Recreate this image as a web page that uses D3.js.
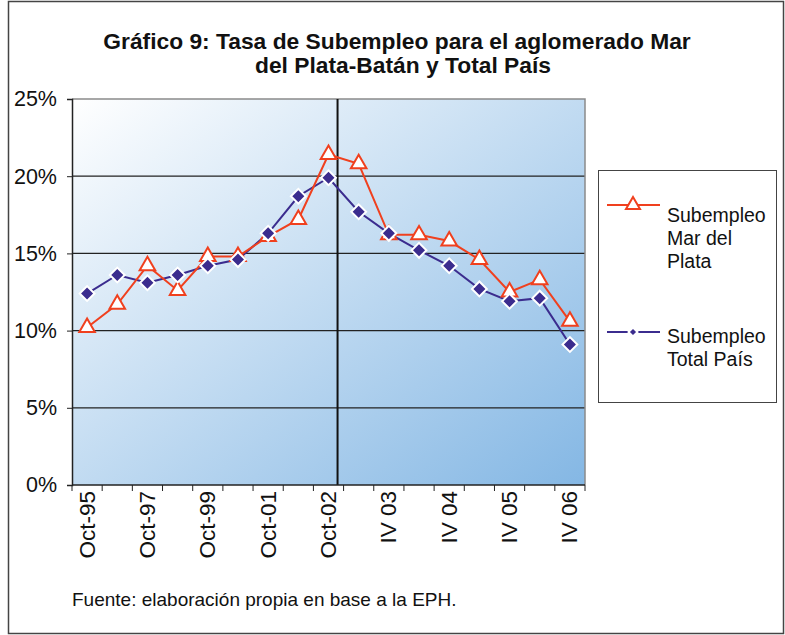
<!DOCTYPE html>
<html>
<head>
<meta charset="utf-8">
<script src="https://cdn.jsdelivr.net/npm/d3@7"></script>
<style>
    body { margin: 0; background: #fff; }
    svg { font-family: "Liberation Sans", Arial, sans-serif; }
</style>
</head>
<body>
<div id="wrapper"></div>
<script>
// categories (only every second one is labelled in the original)
const categories = ["Oct-95", "Oct-96", "Oct-97", "Oct-98", "Oct-99", "Oct-00", "Oct-01", "May-02",
    "Oct-02", "II 03", "IV 03", "II 04", "IV 04", "II 05", "IV 05", "II 06", "IV 06"];

const marDelPlata = [10.2, 11.7, 14.2, 12.6, 14.8, 14.8, 16.1, 17.2, 21.4, 20.8, 16.2, 16.2, 15.8, 14.6, 12.5, 13.3, 10.6];
const totalPais = [12.4, 13.6, 13.1, 13.6, 14.2, 14.6, 16.3, 18.7, 19.9, 17.7, 16.3, 15.2, 14.2, 12.7, 11.9, 12.1, 9.1];

const yTicks = [0, 5, 10, 15, 20, 25];

let wSvg = 785;
let hSvg = 635;

let plot = { left: 72, right: 585, top: 99, bottom: 485 };

let svg = d3.select("#wrapper")
    .append("svg")
    .attr("width", wSvg)
    .attr("height", hSvg);

// outer frame
svg.append("rect")
    .attr("x", 8.5).attr("y", 1.5)
    .attr("width", 775).attr("height", 632)
    .attr("fill", "#fff")
    .attr("stroke", "#444")
    .attr("stroke-width", 1.5);

// title
let title = svg.append("text")
    .attr("text-anchor", "middle")
    .attr("font-weight", "bold")
    .attr("font-size", 22.8)
    .attr("fill", "#111");
title.append("tspan").attr("x", 397).attr("y", 49).text("Gráfico 9: Tasa de Subempleo para el aglomerado Mar");
title.append("tspan").attr("x", 403).attr("y", 73).text("del Plata-Batán y Total País");

// background gradient of the plot area
let defs = svg.append("defs");
let grad = defs.append("linearGradient")
    .attr("id", "bg")
    .attr("x1", "0%").attr("y1", "0%")
    .attr("x2", "100%").attr("y2", "100%");
grad.append("stop").attr("offset", "0%").attr("stop-color", "#ffffff");
grad.append("stop").attr("offset", "100%").attr("stop-color", "#84b7e4");

svg.append("rect")
    .attr("x", plot.left).attr("y", plot.top)
    .attr("width", plot.right - plot.left)
    .attr("height", plot.bottom - plot.top)
    .attr("fill", "url(#bg)");

let xScale = d3.scaleBand()
    .domain(categories)
    .range([plot.left, plot.right])
    .padding(0);

let yScale = d3.scaleLinear()
    .domain([0, 25])
    .range([plot.bottom, plot.top]);

let cx = d => xScale(d) + xScale.bandwidth() / 2;

// gridlines
svg.append("g")
    .selectAll("line")
    .data(yTicks.filter(d => d > 0 && d < 25))
    .enter()
    .append("line")
    .attr("x1", plot.left).attr("x2", plot.right)
    .attr("y1", d => yScale(d)).attr("y2", d => yScale(d))
    .attr("stroke", "#222")
    .attr("stroke-width", 1.2);

// top and right border of plot area
svg.append("path")
    .attr("d", `M${plot.left},${plot.top}H${plot.right}V${plot.bottom}`)
    .attr("fill", "none")
    .attr("stroke", "#8a8a8a")
    .attr("stroke-width", 1.5);

// divider between the old EPH and the continuous EPH
let divX = cx("Oct-02") + xScale.bandwidth() * 0.3;
svg.append("line")
    .attr("x1", divX).attr("x2", divX)
    .attr("y1", plot.top).attr("y2", plot.bottom)
    .attr("stroke", "#111")
    .attr("stroke-width", 2);

// y axis
let yAxis = svg.append("g")
    .attr("transform", `translate(${plot.left},0)`)
    .call(d3.axisLeft(yScale)
        .tickValues(yTicks)
        .tickFormat(d => d + "%")
        .tickSize(5)
        .tickPadding(10));
yAxis.select(".domain").attr("stroke", "#222").attr("stroke-width", 1.5);
yAxis.selectAll(".tick line").attr("stroke", "#222");
yAxis.selectAll("text")
    .attr("font-size", 21.5)
    .attr("fill", "#111")
    .attr("font-family", "'Liberation Sans', Arial, sans-serif");

// x axis: ticks on category boundaries, labels every second category
let xAxis = svg.append("g");
xAxis.append("line")
    .attr("x1", plot.left).attr("x2", plot.right)
    .attr("y1", plot.bottom).attr("y2", plot.bottom)
    .attr("stroke", "#222")
    .attr("stroke-width", 1.5);
xAxis.selectAll(".xt")
    .data(categories.concat(["end"]))
    .enter()
    .append("line")
    .attr("x1", d => d === "end" ? plot.right : xScale(d))
    .attr("x2", d => d === "end" ? plot.right : xScale(d))
    .attr("y1", plot.bottom).attr("y2", plot.bottom + 6)
    .attr("stroke", "#222");
xAxis.selectAll(".xl")
    .data(categories.filter((d, i) => i % 2 === 0))
    .enter()
    .append("text")
    .attr("transform", d => `translate(${cx(d) + 7.5},${plot.bottom + 6}) rotate(-90)`)
    .attr("text-anchor", "end")
    .attr("font-size", 22.5)
    .attr("fill", "#111")
    .text(d => d);

// series
let redColor = "#f0401e";
let blueColor = "#3b2c8e";

let line = d3.line()
    .x((d, i) => cx(categories[i]))
    .y(d => yScale(d));

svg.append("path")
    .datum(totalPais)
    .attr("d", line)
    .attr("fill", "none")
    .attr("stroke", blueColor)
    .attr("stroke-width", 2);

svg.append("path")
    .datum(marDelPlata)
    .attr("d", line)
    .attr("fill", "none")
    .attr("stroke", redColor)
    .attr("stroke-width", 2);

let triangle = d3.symbol().type(d3.symbolTriangle).size(105);
let diamond = d3.symbol().type(d3.symbolSquare).size(110);

svg.append("g")
    .selectAll("path")
    .data(marDelPlata)
    .enter()
    .append("path")
    .attr("d", triangle)
    .attr("transform", (d, i) => `translate(${cx(categories[i])},${yScale(d)})`)
    .attr("fill", "#fff")
    .attr("stroke", redColor)
    .attr("stroke-width", 2);

svg.append("g")
    .selectAll("path")
    .data(totalPais)
    .enter()
    .append("path")
    .attr("d", diamond)
    .attr("transform", (d, i) => `translate(${cx(categories[i])},${yScale(d)}) rotate(45)`)
    .attr("fill", blueColor)
    .attr("stroke", "#fff")
    .attr("stroke-width", 2);

// legend
let legend = svg.append("g");
legend.append("rect")
    .attr("x", 598.5).attr("y", 170.5)
    .attr("width", 178).attr("height", 232)
    .attr("fill", "#fff")
    .attr("stroke", "#444")
    .attr("stroke-width", 1);

legend.append("line")
    .attr("x1", 607).attr("x2", 660)
    .attr("y1", 205).attr("y2", 205)
    .attr("stroke", redColor).attr("stroke-width", 2);
legend.append("path")
    .attr("d", d3.symbol().type(d3.symbolTriangle).size(85))
    .attr("transform", "translate(633,205)")
    .attr("fill", "#fff")
    .attr("stroke", redColor)
    .attr("stroke-width", 2);

legend.append("line")
    .attr("x1", 607).attr("x2", 660)
    .attr("y1", 332).attr("y2", 332)
    .attr("stroke", blueColor).attr("stroke-width", 2);
legend.append("path")
    .attr("d", d3.symbol().type(d3.symbolSquare).size(40))
    .attr("transform", "translate(633,332) rotate(45)")
    .attr("fill", blueColor)
    .attr("stroke", "#fff")
    .attr("stroke-width", 2);

let legendTexts = [
    { y: 222, lines: ["Subempleo", "Mar del", "Plata"] },
    { y: 343, lines: ["Subempleo", "Total País"] }
];
legendTexts.forEach(entry => {
    let t = legend.append("text")
        .attr("font-size", 19.5)
        .attr("fill", "#111");
    entry.lines.forEach((l, i) => {
        t.append("tspan").attr("x", 667).attr("y", entry.y + i * 23).text(l);
    });
});

// source note
svg.append("text")
    .attr("x", 72).attr("y", 606)
    .attr("font-size", 19)
    .attr("fill", "#111")
    .text("Fuente: elaboración propia en base a la EPH.");
</script>
</body>
</html>
